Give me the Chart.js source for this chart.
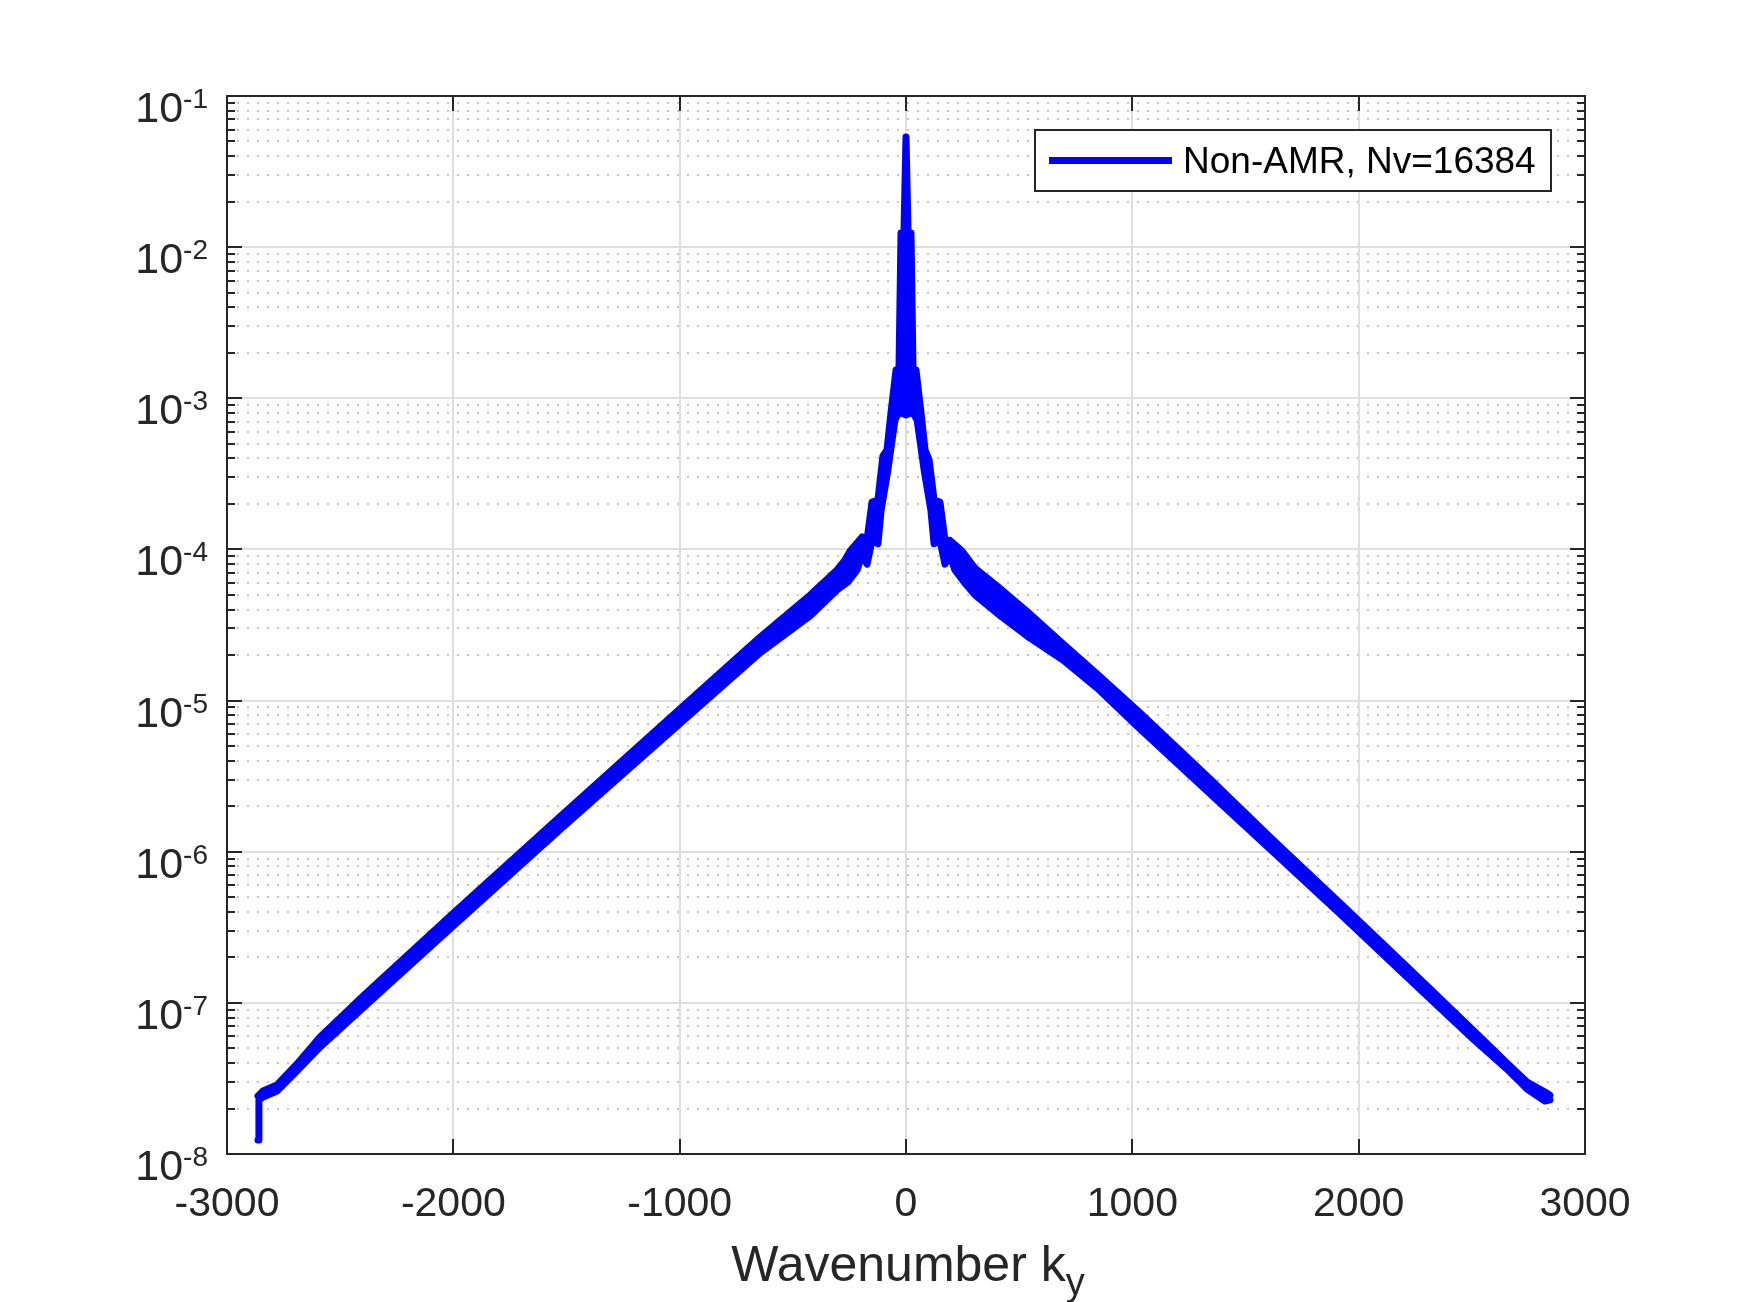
<!DOCTYPE html>
<html>
<head>
<meta charset="utf-8">
<title>Wavenumber spectrum</title>
<script src="https://cdn.jsdelivr.net/npm/chart.js@4.4.1/dist/chart.umd.min.js"></script>
<style>
  html, body { margin: 0; padding: 0; background: #fff; }
  canvas { display: block; }
</style>
</head>
<body>
<canvas id="spectrum" width="1750" height="1302"></canvas>
<script>
// ─── data ───
// the trace oscillates fast, so it is drawn as a band: top edge and bottom edge
const kUpper = [-2863, -2841, -2779, -2691, -2589, -2399, -2000, -1515, -1000, -645, -424,
  -305, -270, -247, -194, -172, -150, -124, -102, -84, -66, -44, -31, -22, -9, 0,
  9, 22, 31, 44, 66, 84, 102, 124, 150, 172, 194, 247, 305, 402, 548, 694, 844,
  1034, 1330, 1622, 1918, 2214, 2505, 2655, 2744, 2823, 2845];
const ampUpper = [2.42e-8, 2.61e-8, 2.86e-8, 3.94e-8, 5.94e-8, 1.11e-7, 3.93e-7, 1.78e-6, 8.79e-6, 2.63e-5, 4.99e-5,
  7.31e-5, 8.5e-5, 9.77e-5, 1.21e-4, 1.16e-4, 2.06e-4, 2.12e-4, 4.15e-4, 4.55e-4, 8.1e-4, 1.54e-3, 1.56e-3, 1.24e-2, 1.24e-2, 5.36e-2,
  1.24e-2, 1.24e-2, 1.56e-3, 1.54e-3, 8.1e-4, 4.55e-4, 3.91e-4, 2.12e-4, 2.06e-4, 1.15e-4, 1.15e-4, 9.77e-5, 7.5e-5, 5.73e-5, 3.74e-5, 2.37e-5, 1.50e-5,
  8.28e-6, 3.17e-6, 1.195e-6, 4.58e-7, 1.73e-7, 6.61e-8, 4.0e-8, 2.99e-8, 2.57e-8, 2.45e-8];

const kLower = [-2863, -2859, -2841, -2779, -2691, -2589, -2399, -2000, -1515, -1000, -645,
  -424, -305, -256, -216, -194, -172, -150, -124, -110, -80, -49, -31, 0, 31, 49,
  80, 110, 124, 150, 172, 194, 216, 256, 305, 402, 548, 694, 844, 1034, 1330,
  1622, 1918, 2214, 2505, 2655, 2744, 2823, 2845];
const ampLower = [1.24e-8, 2.28e-8, 2.38e-8, 2.61e-8, 3.54e-8, 5.1e-8, 9.25e-8, 3.23e-7, 1.46e-6, 7.0e-6, 2.07e-5,
  3.63e-5, 5.4e-5, 6.1e-5, 7.31e-5, 9.18e-5, 8.0e-5, 1.15e-4, 1.09e-4, 1.82e-4, 3.36e-4, 7.18e-4, 8.1e-4, 7.76e-4, 8.1e-4, 7.18e-4,
  3.36e-4, 1.82e-4, 1.09e-4, 1.15e-4, 8.0e-5, 9.18e-5, 7.31e-5, 6.1e-5, 4.99e-5, 3.79e-5, 2.59e-5, 1.855e-5, 1.21e-5, 6.49e-6, 2.52e-6,
  9.96e-7, 3.87e-7, 1.48e-7, 5.77e-8, 3.65e-8, 2.69e-8, 2.24e-8, 2.28e-8];

const xTicks = [-3000, -2000, -1000, 0, 1000, 2000, 3000];
const yDecades = [-8, -7, -6, -5, -4, -3, -2, -1];
const seriesName = 'Non-AMR, Nv=16384';
const xTitle = 'Wavenumber k';
const xTitleSub = 'y';

const BLUE = '#0000ff';
const INK = '#262626';
const FONT = "'Liberation Sans', Arial, Helvetica, sans-serif";

function hline(ctx, x0, x1, y) {
  ctx.beginPath(); ctx.moveTo(x0, y); ctx.lineTo(x1, y); ctx.stroke();
}
function vline(ctx, x, y0, y1) {
  ctx.beginPath(); ctx.moveTo(x, y0); ctx.lineTo(x, y1); ctx.stroke();
}

// grid goes under the trace
const gridPlugin = {
  id: 'matlabGrid',
  beforeDatasetsDraw(chart) {
    const { ctx, chartArea: a, scales: { x, y } } = chart;
    ctx.save();
    // minor dotted lines between decades
    ctx.strokeStyle = '#c6c6c6';
    ctx.lineWidth = 2;
    ctx.setLineDash([2, 8]);
    yDecades.slice(0, -1).forEach(d => {
      for (let m = 2; m <= 9; m++) {
        const py = Math.round(y.getPixelForValue(m * Math.pow(10, d)));
        hline(ctx, a.left, a.right, py);
      }
    });
    // major solid lines
    ctx.setLineDash([]);
    ctx.strokeStyle = '#dedede';
    yDecades.slice(1, -1).forEach(d => {
      hline(ctx, a.left, a.right, Math.round(y.getPixelForValue(Math.pow(10, d))));
    });
    xTicks.slice(1, -1).forEach(t => {
      vline(ctx, Math.round(x.getPixelForValue(t)), a.top, a.bottom);
    });
    ctx.restore();
  },
};

// box, ticks, labels, legend on top
const axesPlugin = {
  id: 'matlabAxes',
  afterDatasetsDraw(chart) {
    const { ctx, chartArea: a, scales: { x, y } } = chart;
    ctx.save();
    ctx.strokeStyle = INK;
    ctx.lineWidth = 2;
    ctx.strokeRect(a.left, a.top, a.right - a.left, a.bottom - a.top);

    // y ticks, both sides, pointing inward
    yDecades.forEach((d, i) => {
      const py = Math.round(y.getPixelForValue(Math.pow(10, d)));
      hline(ctx, a.left, a.left + 15, py);
      hline(ctx, a.right - 15, a.right, py);
      if (i < yDecades.length - 1) {
        for (let m = 2; m <= 9; m++) {
          const pm = Math.round(y.getPixelForValue(m * Math.pow(10, d)));
          hline(ctx, a.left, a.left + 8, pm);
          hline(ctx, a.right - 8, a.right, pm);
        }
      }
    });
    // x ticks, top and bottom
    xTicks.forEach(t => {
      const px = Math.round(x.getPixelForValue(t));
      vline(ctx, px, a.bottom - 15, a.bottom);
      vline(ctx, px, a.top, a.top + 15);
    });

    // y labels: 10 with exponent
    ctx.fillStyle = INK;
    ctx.textBaseline = 'alphabetic';
    yDecades.forEach(d => {
      const py = y.getPixelForValue(Math.pow(10, d));
      const exp = String(d);
      ctx.font = `28px ${FONT}`;
      const we = ctx.measureText(exp).width;
      ctx.font = `43px ${FONT}`;
      const wb = ctx.measureText('10').width;
      const right = a.left - 19;
      ctx.textAlign = 'left';
      ctx.fillText('10', right - we - wb, py + 26);
      ctx.font = `28px ${FONT}`;
      ctx.fillText(exp, right - we, py + 12);
    });

    // x labels
    ctx.font = `41px ${FONT}`;
    ctx.textAlign = 'center';
    xTicks.forEach(t => {
      ctx.fillText(String(t), x.getPixelForValue(t), a.bottom + 62);
    });

    // x title with subscript
    ctx.font = `50px ${FONT}`;
    const wMain = ctx.measureText(xTitle).width;
    ctx.font = `38px ${FONT}`;
    const wSub = ctx.measureText(xTitleSub).width;
    const cx = (a.left + a.right) / 2 + 2;
    const x0 = cx - (wMain + wSub) / 2;
    ctx.textAlign = 'left';
    ctx.font = `50px ${FONT}`;
    ctx.fillText(xTitle, x0, a.bottom + 127);
    ctx.font = `38px ${FONT}`;
    ctx.fillText(xTitleSub, x0 + wMain, a.bottom + 141);

    // legend box
    const bw = 516, bh = 61;
    const bx = a.right - 34 - bw, by = a.top + 34;
    ctx.fillStyle = '#fff';
    ctx.fillRect(bx, by, bw, bh);
    ctx.strokeStyle = INK;
    ctx.lineWidth = 2;
    ctx.strokeRect(bx, by, bw, bh);
    ctx.strokeStyle = BLUE;
    ctx.lineWidth = 7;
    hline(ctx, bx + 14, bx + 137, by + bh / 2);
    ctx.fillStyle = '#000';
    ctx.font = `37px ${FONT}`;
    ctx.textAlign = 'left';
    ctx.textBaseline = 'middle';
    ctx.fillText(seriesName, bx + 148, by + bh / 2 + 2);
    ctx.restore();
  },
};

const toPoints = (ks, vs) => ks.map((k, i) => ({ x: k, y: vs[i] }));

new Chart(document.getElementById('spectrum'), {
  type: 'line',
  data: {
    datasets: [
      {
        label: seriesName,
        data: toPoints(kUpper, ampUpper),
        borderColor: BLUE,
        backgroundColor: BLUE,
        borderWidth: 7,
        pointRadius: 0,
        tension: 0,
        fill: false,
        borderCapStyle: 'round',
        borderJoinStyle: 'round',
      },
      {
        label: seriesName + ' (lower edge)',
        data: toPoints(kLower, ampLower),
        borderColor: BLUE,
        backgroundColor: BLUE,
        borderWidth: 7,
        pointRadius: 0,
        tension: 0,
        fill: '-1',
        borderCapStyle: 'round',
        borderJoinStyle: 'round',
      },
    ],
  },
  options: {
    responsive: false,
    devicePixelRatio: 1,
    animation: false,
    layout: { padding: { left: 227, right: 165, top: 96, bottom: 148 } },
    plugins: {
      legend: { display: false },
      tooltip: { enabled: false },
    },
    scales: {
      x: { type: 'linear', min: -3000, max: 3000, display: false },
      y: { type: 'logarithmic', min: 1e-8, max: 1e-1, display: false },
    },
  },
  plugins: [gridPlugin, axesPlugin],
});
</script>
</body>
</html>
